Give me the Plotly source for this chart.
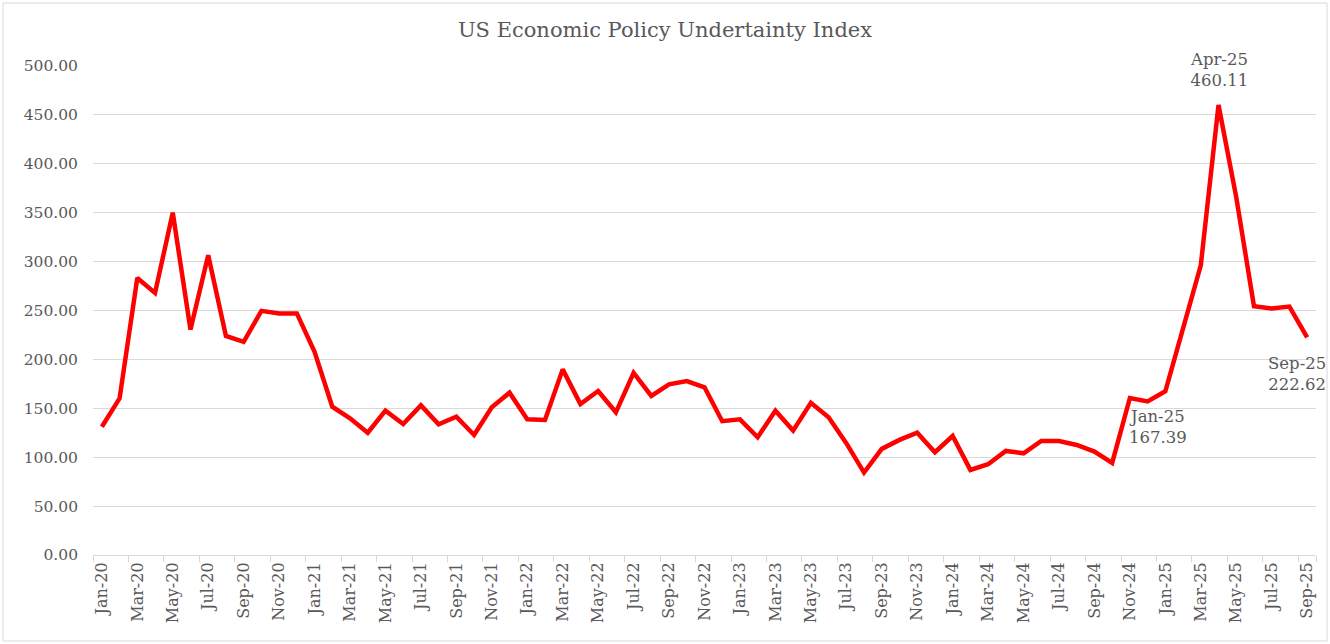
import plotly.graph_objects as go

months = [
    "Jan-20","Feb-20","Mar-20","Apr-20","May-20","Jun-20","Jul-20","Aug-20","Sep-20","Oct-20","Nov-20","Dec-20",
    "Jan-21","Feb-21","Mar-21","Apr-21","May-21","Jun-21","Jul-21","Aug-21","Sep-21","Oct-21","Nov-21","Dec-21",
    "Jan-22","Feb-22","Mar-22","Apr-22","May-22","Jun-22","Jul-22","Aug-22","Sep-22","Oct-22","Nov-22","Dec-22",
    "Jan-23","Feb-23","Mar-23","Apr-23","May-23","Jun-23","Jul-23","Aug-23","Sep-23","Oct-23","Nov-23","Dec-23",
    "Jan-24","Feb-24","Mar-24","Apr-24","May-24","Jun-24","Jul-24","Aug-24","Sep-24","Oct-24","Nov-24","Dec-24",
    "Jan-25","Feb-25","Mar-25","Apr-25","May-25","Jun-25","Jul-25","Aug-25","Sep-25",
]

epu = [
    131.2, 160.2, 283.3, 268.0, 350.0, 230.5, 306.4, 224.0, 218.0, 249.6, 247.0, 247.0,
    207.8, 151.6, 139.8, 125.0, 147.6, 134.0, 153.0, 133.7, 141.4, 122.7, 151.0, 166.0,
    138.8, 138.0, 189.8, 154.4, 167.7, 145.9, 186.3, 162.6, 174.5, 177.9, 171.5, 136.8,
    138.7, 120.4, 147.6, 127.2, 155.7, 140.8, 114.3, 84.3, 108.5, 117.7, 125.1, 105.1,
    121.7, 87.0, 92.8, 106.4, 104.0, 116.6, 116.6, 112.5, 105.7, 94.2, 160.5, 157.0,
    167.39, 229.9, 296.2, 460.11, 365.9, 254.4, 252.0, 254.0, 222.62,
]

callouts = {"Jan-25": (-7, -36), "Apr-25": (0, 35), "Sep-25": (-10, -37)}

y_ticks = [0, 50, 100, 150, 200, 250, 300, 350, 400, 450, 500]

FONT = "DejaVu Serif"
GRAY = "#595959"

xs = list(range(len(months)))

fig = go.Figure()
fig.add_trace(go.Scatter(
    x=xs, y=epu, mode="lines",
    line=dict(color="#FF0000", width=4.5),
    hoverinfo="skip", showlegend=False,
))

for lbl, (dx, dy) in callouts.items():
    i = months.index(lbl)
    fig.add_annotation(
        x=xs[i], y=epu[i], text=f"{lbl}<br>{epu[i]:.2f}",
        showarrow=False, xshift=dx, yshift=dy,
        font=dict(family=FONT, size=16.5, color=GRAY),
        align="center", xanchor="center", yanchor="middle",
    )

L, R, T, B = 93, 14, 66, 89
W, H = 1330, 644
pw, ph = W - L - R, H - T - B

fig.add_shape(
    type="rect", xref="paper", yref="paper",
    x0=(3 - L) / pw, x1=(W - 3 - L) / pw,
    y0=-((H - 3) - (T + ph)) / ph,
    y1=1 + (T - 3) / ph,
    line=dict(color="#d9d9d9", width=1), layer="below",
)

fig.update_layout(
    width=W, height=H,
    margin=dict(l=L, r=R, t=T, b=B, pad=0),
    paper_bgcolor="white", plot_bgcolor="white",
    title=dict(text="US Economic Policy Undertainty Index", x=0.5, xanchor="center",
               y=1 - 30 / H, yanchor="middle",
               font=dict(family=FONT, size=21, color=GRAY)),
    font=dict(family=FONT, color=GRAY),
    xaxis=dict(
        range=[-0.5, len(months) - 0.5],
        tickmode="array", tickvals=xs[::2], ticktext=months[::2],
        tickangle=-90, tickfont=dict(family=FONT, size=16, color=GRAY),
        ticks="", showgrid=False, zeroline=False, automargin=False,
        showline=True, linecolor="#d9d9d9", linewidth=1,
        minor=dict(tickmode="array", tickvals=[x - 0.5 for x in xs[::2]] + [len(months) - 0.5],
                   ticks="outside", ticklen=6, tickcolor="#d9d9d9", showgrid=False),
        fixedrange=True,
    ),
    yaxis=dict(
        range=[0, 500], tickmode="array", tickvals=y_ticks,
        ticktext=[f"{v:.2f}" for v in y_ticks],
        tickfont=dict(family=FONT, size=15.5, color=GRAY),
        showgrid=True, gridcolor="#d9d9d9", gridwidth=1, automargin=False,
        zeroline=False, showline=False, ticks="",
        ticklabelstandoff=14, fixedrange=True,
    ),
)

fig.write_html("out.html", config={"displayModeBar": False},
               post_script="document.body.style.margin='0';document.body.style.overflow='hidden';")
